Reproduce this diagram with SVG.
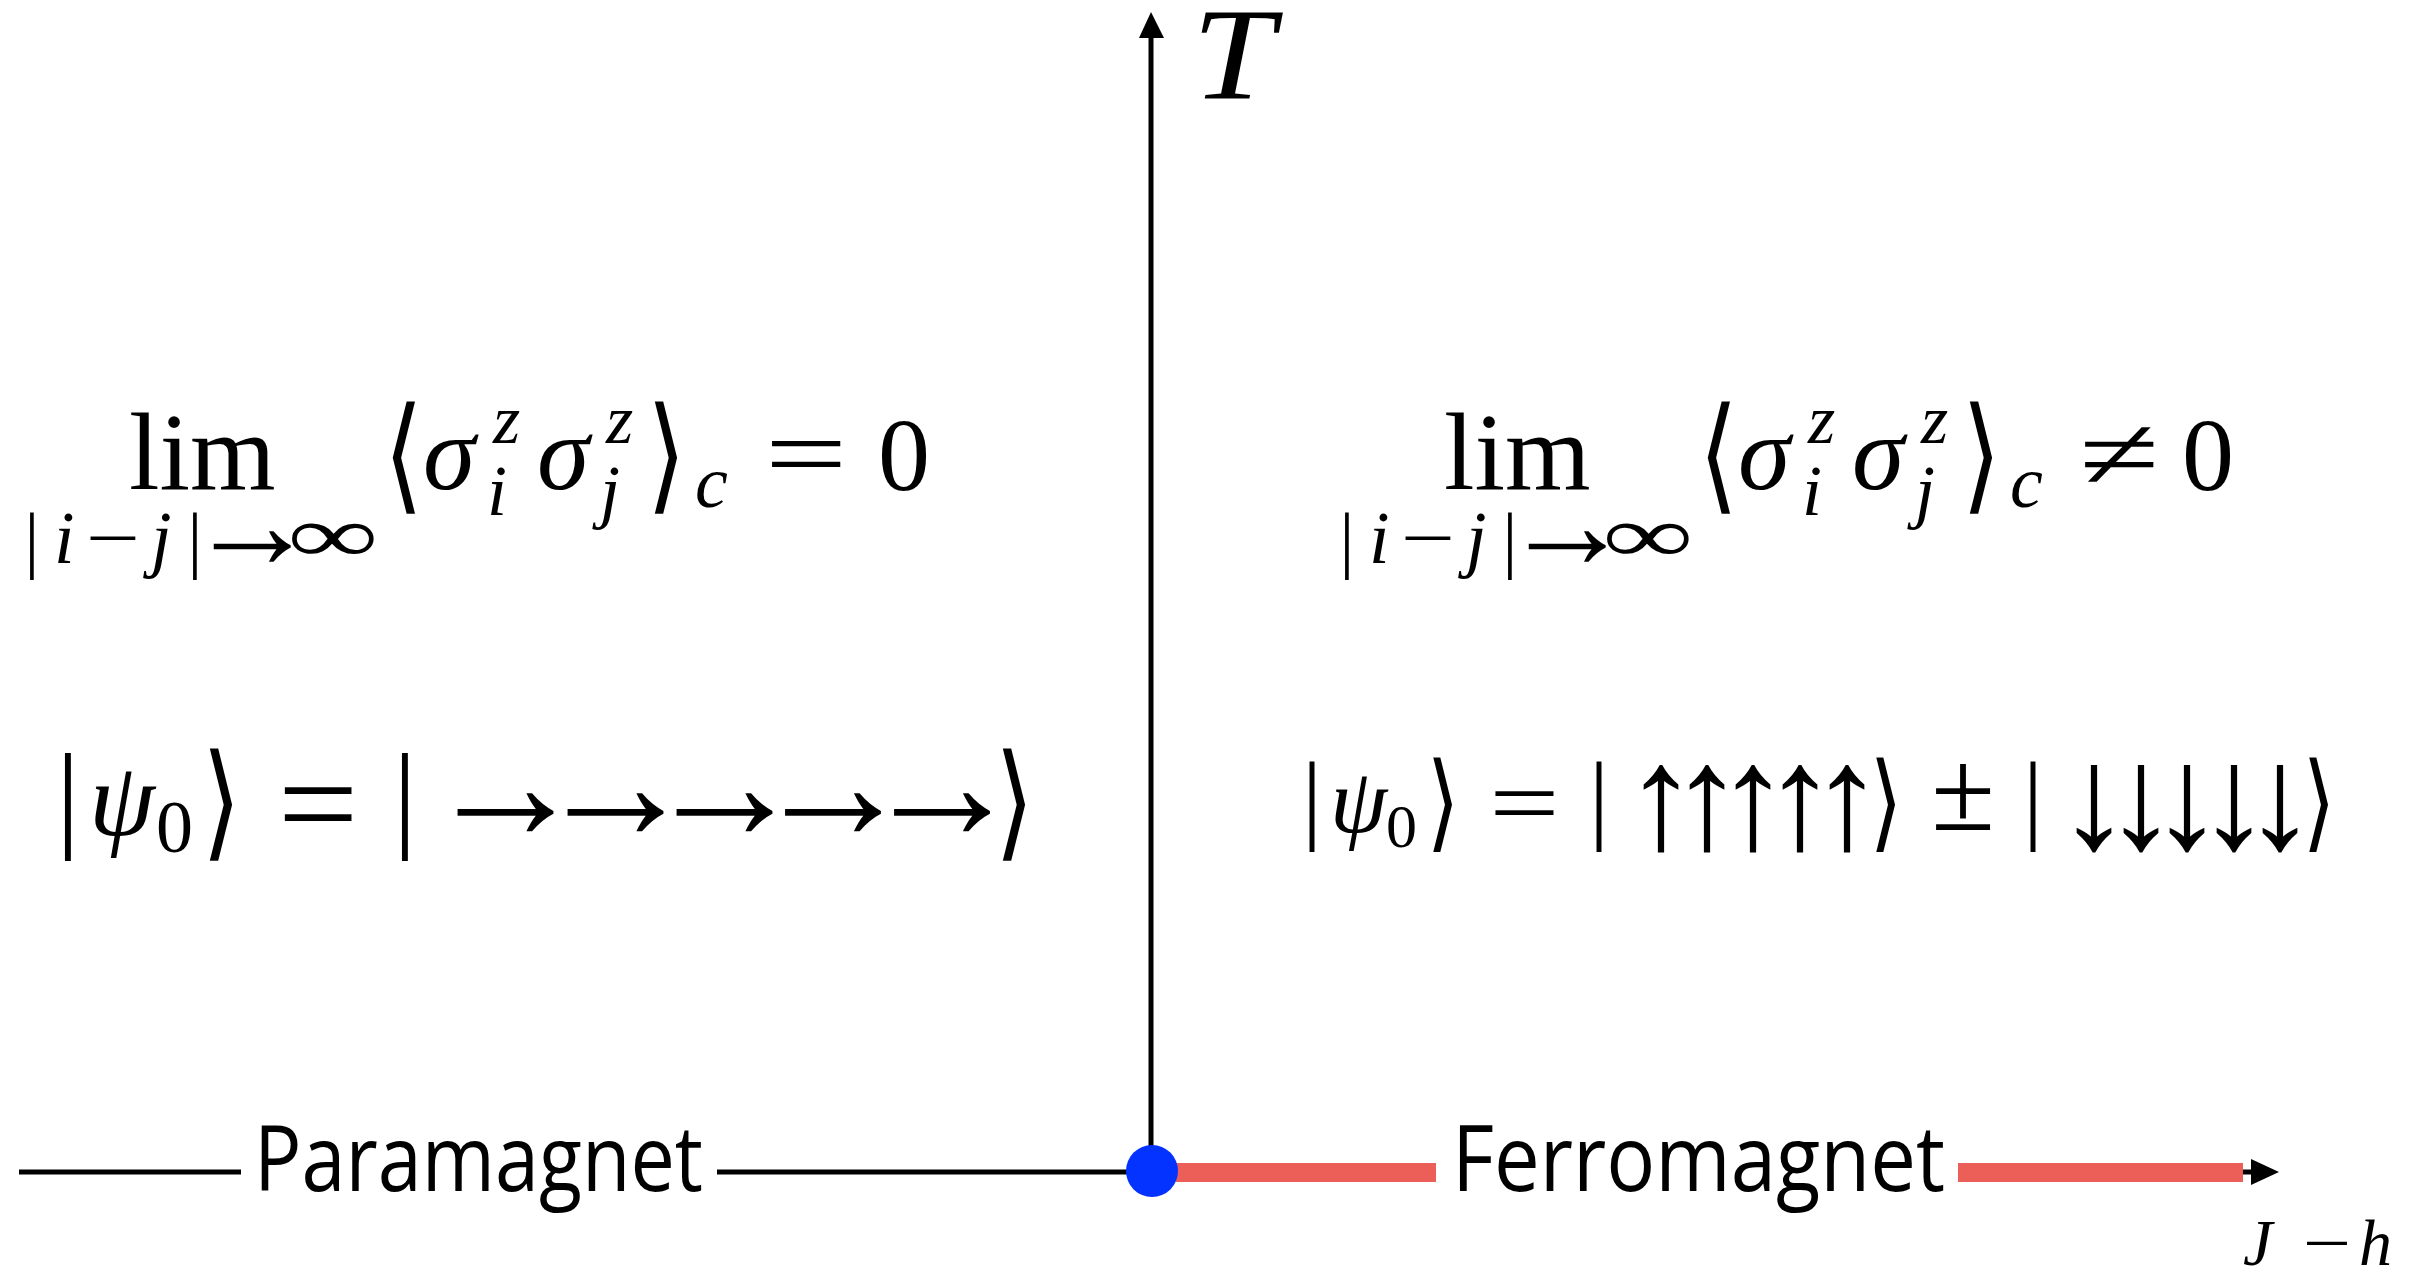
<svg xmlns="http://www.w3.org/2000/svg" width="2432" height="1270" viewBox="0 0 2432 1270">
<style>
.m{font-family:"Liberation Serif","DejaVu Serif",serif;fill:#000}
.i{font-style:italic}
.c{text-anchor:middle}
.lbl{font-family:"Open Sans","Liberation Sans",sans-serif;font-size:92px;fill:#000}
.ax{stroke:#000;stroke-width:5;fill:none}
.red{fill:#eb5f58}
</style>
<rect width="2432" height="1270" fill="#fff"/>
<g id="connectors">
<line class="ax" x1="1151" y1="1171" x2="1151" y2="34"/>
<polygon points="1151,12 1139,38 1164,38" fill="#000"/>
<line class="ax" x1="19" y1="1172" x2="241" y2="1172"/>
<line class="ax" x1="717" y1="1172" x2="1150" y2="1172"/>
<line class="ax" x1="2236" y1="1172" x2="2256" y2="1172"/>
<polygon points="2279,1172 2251,1159 2251,1185" fill="#000"/>
<rect class="red" x="1176" y="1163" width="260" height="19"/>
<rect class="red" x="1958" y="1163" width="285" height="19"/>
</g>
<g id="critical-point"><circle cx="1152" cy="1171" r="26" fill="#0433ff"/></g>
<g id="axis-T"><text class="m i" font-size="132" transform="translate(1192,99) scale(1.12,1)">T</text></g>
<g id="axis-Jh">
<text class="m i" font-size="66" x="2243" y="1265">J</text>
<text class="m c" font-size="66" transform="translate(2327,1265) scale(1.3,1)">−</text>
<text class="m i" font-size="66" x="2359" y="1265">h</text>
</g>
<g id="paramagnet"><text class="lbl" x="254" y="1191" textLength="449" lengthAdjust="spacingAndGlyphs">Paramagnet</text></g>
<g id="ferromagnet"><text class="lbl" x="1452" y="1191" textLength="493" lengthAdjust="spacingAndGlyphs">Ferromagnet</text></g>
<g id="left-limit">
<text class="m" font-size="110" x="129" y="489">lim</text>
<text class="m c" font-size="74" y="564" x="32 195">||</text>
<text class="m i" font-size="74" y="563"><tspan x="54">i</tspan><tspan x="151">j</tspan></text>
<text class="m c" font-size="74" transform="translate(113,563) scale(1.3,1)">−</text>
<text class="m c" font-size="130" x="252" y="568">→</text>
<text class="m c" font-size="80" transform="translate(333,562) scale(1.6,1)">∞</text>
<text class="m c" font-size="126" transform="translate(403.5,497) scale(0.8,1)">⟨</text>
<text class="m i" font-size="106" y="489"><tspan x="423">σ</tspan><tspan x="537">σ</tspan></text>
<text class="m i" font-size="70" y="443"><tspan x="493">z</tspan><tspan x="606">z</tspan></text>
<text class="m i" font-size="72" y="515"><tspan x="487">i</tspan><tspan x="600">j</tspan></text>
<text class="m c" font-size="126" transform="translate(666.5,497) scale(0.8,1)">⟩</text>
<text class="m i" font-size="74" x="695" y="507">c</text>
<text class="m c" font-size="104" transform="translate(806,489) scale(1.41,1)">=</text>
<text class="m" font-size="104" x="878" y="490">0</text>
</g>
<g id="right-limit">
<text class="m" font-size="110" x="1444" y="489">lim</text>
<text class="m c" font-size="74" y="564" x="1347 1510">||</text>
<text class="m i" font-size="74" y="563"><tspan x="1369">i</tspan><tspan x="1466">j</tspan></text>
<text class="m c" font-size="74" transform="translate(1428,563) scale(1.3,1)">−</text>
<text class="m c" font-size="130" x="1567" y="568">→</text>
<text class="m c" font-size="80" transform="translate(1648,562) scale(1.6,1)">∞</text>
<text class="m c" font-size="126" transform="translate(1718.5,497) scale(0.8,1)">⟨</text>
<text class="m i" font-size="106" y="489"><tspan x="1738">σ</tspan><tspan x="1852">σ</tspan></text>
<text class="m i" font-size="70" y="443"><tspan x="1808">z</tspan><tspan x="1921">z</tspan></text>
<text class="m i" font-size="72" y="515"><tspan x="1802">i</tspan><tspan x="1915">j</tspan></text>
<text class="m c" font-size="126" transform="translate(1981.5,497) scale(0.8,1)">⟩</text>
<text class="m i" font-size="74" x="2010" y="507">c</text>
<text class="m c" font-size="104" transform="translate(2119,489) scale(1.41,1)">≠</text>
<text class="m" font-size="104" x="2182" y="490">0</text>
</g>
<g id="left-state">
<text class="m c" font-size="119" y="836" x="68 405">||</text>
<text class="m i" font-size="106" x="89" y="835">ψ</text>
<text class="m" font-size="74" x="156" y="852">0</text>
<text class="m c" font-size="126" transform="translate(221.5,844) scale(0.8,1)">⟩</text>
<text class="m c" font-size="106" transform="translate(318,849) scale(1.35,1.25)">=</text>
<text class="m c" font-size="162" y="839" x="505.5 615.5 724.5 833 942">→→→→→</text>
<text class="m c" font-size="126" transform="translate(1014.5,844) scale(0.8,1)">⟩</text>
</g>
<g id="right-state">
<text class="m c" font-size="100" y="831" x="1312 1599 2033">|||</text>
<text class="m i" font-size="92" x="1330" y="832">ψ</text>
<text class="m" font-size="62" x="1386" y="847">0</text>
<text class="m c" font-size="106" transform="translate(1443,838) scale(0.8,1)">⟩</text>
<text class="m c" font-size="93" transform="translate(1524.5,834) scale(1.34,1)">=</text>
<text class="m c" font-size="148" y="848" x="1661 1707 1753 1800 1847">↑↑↑↑↑</text>
<text class="m c" font-size="106" transform="translate(1886,838) scale(0.8,1)">⟩</text>
<text class="m c" font-size="116" x="1963" y="830">±</text>
<text class="m c" font-size="148" y="848" x="2094 2141 2187 2234 2280">↓↓↓↓↓</text>
<text class="m c" font-size="106" transform="translate(2319,838) scale(0.8,1)">⟩</text>
</g>
</svg>
